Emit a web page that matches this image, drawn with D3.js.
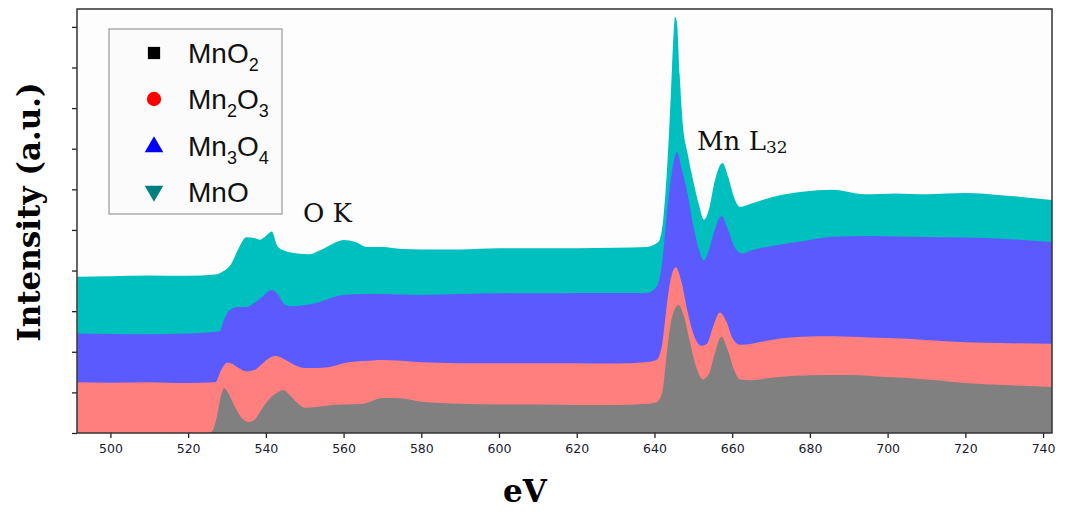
<!DOCTYPE html>
<html>
<head>
<meta charset="utf-8">
<script src="https://cdn.jsdelivr.net/npm/d3@7/dist/d3.min.js"></script>
<style>
  html, body { margin: 0; padding: 0; background: #ffffff; }
  svg { display: block; }
</style>
</head>
<body>
<svg id="chart" width="1067" height="513"></svg>
<script>
// ---------- data ----------
const xTicks = [500, 520, 540, 560, 580, 600, 620, 640, 660, 680, 700, 720, 740];
const yTicks = [0, 1, 2, 3, 4, 5, 6, 7, 8, 9, 10];
const xDomain = [491.4, 742.3];
const yDomain = [0, 10.44];

const seriesNames = ["MnO2", "Mn2O3", "Mn3O4", "MnO"];

const mno2Ev  = [491.5, 525.5, 526.5, 527.5, 528.5, 529.3, 530.5, 532, 534, 535.5, 537, 539, 541, 543, 544.5, 546, 548, 550, 553, 556, 560, 565, 570, 575, 580, 590, 600, 610, 620, 630, 638, 640.5, 642, 643, 644, 645, 646.2, 647.5, 649, 650.5, 652.5, 654, 655.5, 657.2, 659, 660.5, 662, 665, 670, 680, 690, 700, 710, 720, 730, 742.3];
const mno2Val = [0, 0, 0.1, 0.45, 0.95, 1.1, 0.95, 0.65, 0.35, 0.27, 0.32, 0.6, 0.85, 1.0, 1.06, 0.95, 0.75, 0.62, 0.64, 0.68, 0.7, 0.72, 0.86, 0.85, 0.77, 0.72, 0.7, 0.7, 0.69, 0.69, 0.72, 0.76, 1.0, 1.8, 2.6, 3.0, 3.15, 2.9, 2.3, 1.7, 1.32, 1.45, 1.95, 2.37, 2.0, 1.55, 1.32, 1.3, 1.36, 1.42, 1.43, 1.38, 1.32, 1.23, 1.18, 1.13];

const mn2o3Ev  = [491.5, 500, 510, 520, 527, 528.5, 530, 531, 533, 535, 537, 539, 541, 542.5, 544, 546, 548, 550, 553, 556, 560, 565, 570, 575, 580, 590, 600, 610, 620, 630, 638, 640.5, 642, 643, 644, 645.5, 647, 648.5, 650, 652, 653.5, 655, 656.8, 658.5, 660, 662, 665, 670, 678, 686, 695, 705, 715, 725, 742.3];
const mn2o3Val = [1.25, 1.24, 1.25, 1.23, 1.25, 1.55, 1.73, 1.72, 1.6, 1.52, 1.55, 1.7, 1.85, 1.9, 1.85, 1.75, 1.65, 1.6, 1.6, 1.62, 1.72, 1.77, 1.8, 1.78, 1.74, 1.72, 1.72, 1.72, 1.72, 1.71, 1.75, 1.8, 2.2, 3.0, 3.7, 4.08, 3.7, 3.0, 2.45, 2.15, 2.2, 2.6, 2.97, 2.75, 2.35, 2.17, 2.2, 2.29, 2.37, 2.38, 2.35, 2.32, 2.26, 2.22, 2.2];

const mn3o4Ev  = [491.5, 500, 510, 520, 528, 529.5, 531, 533, 535, 537, 539, 541.5, 543, 545, 547, 550, 553, 556, 560, 565, 570, 580, 590, 600, 610, 620, 630, 638, 640.5, 642, 643, 644, 645, 645.8, 647, 648.5, 650, 651.5, 652.7, 654, 655.5, 657.2, 659, 660.5, 662.5, 665, 670, 678, 686, 695, 705, 715, 725, 742.3];
const mn3o4Val = [2.45, 2.44, 2.43, 2.45, 2.5, 2.85, 3.05, 3.1, 3.1, 3.2, 3.35, 3.52, 3.42, 3.15, 3.12, 3.15, 3.2, 3.3, 3.4, 3.42, 3.42, 3.4, 3.42, 3.44, 3.44, 3.45, 3.45, 3.45, 3.6, 4.2, 5.2, 6.1, 6.7, 6.92, 6.5, 5.9, 5.1, 4.5, 4.25, 4.5, 5.0, 5.34, 5.0, 4.6, 4.42, 4.5, 4.6, 4.72, 4.83, 4.85, 4.83, 4.82, 4.8, 4.7];

const mnoEv  = [491.5, 500, 510, 520, 527, 529, 531, 533, 535, 537, 538.5, 540, 541.5, 543, 545, 548, 551, 554, 557, 560, 563, 566, 570, 575, 580, 590, 600, 610, 620, 630, 638, 641, 642.3, 643.3, 644.2, 644.8, 645.3, 645.8, 646.5, 647.3, 648.5, 650, 651.5, 652.7, 654, 655.5, 657.5, 659, 660.5, 662, 665, 670, 678, 686, 694, 702, 710, 720, 730, 742.3];
const mnoVal = [3.85, 3.86, 3.88, 3.87, 3.9, 3.98, 4.15, 4.55, 4.82, 4.8, 4.76, 4.85, 4.96, 4.6, 4.48, 4.42, 4.4, 4.5, 4.65, 4.75, 4.7, 4.58, 4.58, 4.53, 4.52, 4.52, 4.55, 4.55, 4.55, 4.56, 4.58, 4.7, 5.3, 6.6, 8.3, 9.6, 10.25, 10.1, 8.8, 7.6, 6.9, 6.2, 5.6, 5.25, 5.5, 6.2, 6.65, 6.3, 5.8, 5.57, 5.65, 5.8, 5.94, 5.99, 5.88, 5.9, 5.88, 5.91, 5.85, 5.74];

// ---------- layout / style ----------
const plot = { left: 77, right: 1052, top: 9, bottom: 433 };
const fills = { MnO: "#00bfbf", Mn3O4: "#5a5aff", Mn2O3: "#ff7f7f", MnO2: "#808080" };
const markerColors = { MnO2: "#000000", Mn2O3: "#ff0000", Mn3O4: "#0000ff", MnO: "#007f7f" };

const svg = d3.select("#chart");
const x = d3.scaleLinear().domain(xDomain).range([plot.left, plot.right]);
const y = d3.scaleLinear().domain(yDomain).range([plot.bottom, plot.top]);

const defs = svg.append("defs");
defs.append("clipPath").attr("id", "plotClip")
  .append("rect").attr("x", plot.left).attr("y", plot.top)
  .attr("width", plot.right - plot.left).attr("height", plot.bottom - plot.top);
defs.append("clipPath").attr("id", "zeroClip")
  .append("rect").attr("x", 60).attr("y", 425).attr("width", 6).attr("height", 20);

// plot background
svg.append("rect").attr("x", plot.left).attr("y", plot.top)
  .attr("width", plot.right - plot.left).attr("height", plot.bottom - plot.top)
  .attr("fill", "#fdfdfd");

const series = [
  { name: "MnO",   ev: mnoEv,   val: mnoVal },
  { name: "Mn3O4", ev: mn3o4Ev, val: mn3o4Val },
  { name: "Mn2O3", ev: mn2o3Ev, val: mn2o3Val },
  { name: "MnO2",  ev: mno2Ev,  val: mno2Val }
];

const area = d3.area()
  .x(d => x(d[0]))
  .y0(y(0))
  .y1(d => y(d[1]))
  .curve(d3.curveMonotoneX);

const g = svg.append("g").attr("clip-path", "url(#plotClip)");
series.forEach(s => {
  const pts = s.ev.map((e, i) => [e, s.val[i]]);
  g.append("path").datum(pts).attr("d", area).attr("fill", fills[s.name]);
});

// axes
const xAxis = d3.axisBottom(x).tickValues(xTicks).tickSize(5).tickSizeOuter(0).tickPadding(6);
const xg = svg.append("g").attr("transform", `translate(0,${plot.bottom})`).call(xAxis);
xg.select(".domain").remove();
xg.selectAll("line").attr("stroke", "#222").attr("stroke-width", 1.3);
xg.selectAll("text").attr("font-family", "'DejaVu Sans', sans-serif").attr("font-size", 12.5)
  .attr("fill", "#1a1a2e");

const yAxis = d3.axisLeft(y).tickValues(yTicks).tickSize(5).tickSizeOuter(0).tickFormat(d => d === 0 ? "0" : "");
const yg = svg.append("g").attr("transform", `translate(${plot.left},0)`).call(yAxis);
yg.select(".domain").remove();
yg.selectAll("line").attr("stroke", "#222").attr("stroke-width", 1.3);
yg.selectAll("text").attr("font-family", "'DejaVu Sans', sans-serif").attr("font-size", 11)
  .attr("fill", "#2a4a9a").attr("dy", "0.6em")
  .attr("clip-path", "url(#zeroClip)").attr("transform", `translate(${-plot.left},0)`)
  .attr("x", plot.left - 7);

// frame
svg.append("rect").attr("x", plot.left).attr("y", plot.top)
  .attr("width", plot.right - plot.left).attr("height", plot.bottom - plot.top)
  .attr("fill", "none").attr("stroke", "#333").attr("stroke-width", 1.5);

// legend
const leg = svg.append("g");
leg.append("rect").attr("x", 109).attr("y", 29).attr("width", 173).attr("height", 185)
  .attr("fill", "#fbfbfb").attr("stroke", "#9a9a9a").attr("stroke-width", 1.2);
const legendRows = [
  { name: "MnO2", shape: d3.symbolSquare, parts: [["MnO", false], ["2", true]] },
  { name: "Mn2O3", shape: d3.symbolCircle, parts: [["Mn", false], ["2", true], ["O", false], ["3", true]] },
  { name: "Mn3O4", shape: d3.symbolTriangle, parts: [["Mn", false], ["3", true], ["O", false], ["4", true]] },
  { name: "MnO", shape: d3.symbolTriangle, down: true, parts: [["MnO", false]] }
];
const rowY = [53, 99, 146, 192];
legendRows.forEach((r, i) => {
  const sz = r.shape === d3.symbolSquare ? 150 : (r.shape === d3.symbolCircle ? 160 : 150);
  leg.append("path").attr("d", d3.symbol().type(r.shape).size(sz)())
    .attr("transform", `translate(154,${rowY[i] + (r.down ? -1 : (r.shape === d3.symbolTriangle ? 1 : 0))})${r.down ? " rotate(180)" : ""}`)
    .attr("fill", markerColors[r.name]);
  const t = leg.append("text").attr("x", 188).attr("y", rowY[i] + 10)
    .attr("font-family", "'Liberation Sans', Arial, sans-serif").attr("font-size", 28).attr("fill", "#111");
  let prevSub = false;
  r.parts.forEach(p => {
    const ts = t.append("tspan").text(p[0]);
    if (p[1]) { ts.attr("font-size", 18).attr("dy", 8); }
    else if (prevSub) { ts.attr("dy", -8); }
    prevSub = p[1];
  });
});

// annotations
svg.append("text").attr("x", 303).attr("y", 222)
  .attr("font-family", "'DejaVu Serif', serif").attr("font-size", 26).attr("fill", "#111")
  .text("O K");
const ml = svg.append("text").attr("x", 697).attr("y", 150)
  .attr("font-family", "'DejaVu Serif', serif").attr("font-size", 26).attr("fill", "#111");
ml.append("tspan").text("Mn L");
ml.append("tspan").text("32").attr("font-size", 17).attr("dy", 3);

// axis titles
svg.append("text").attr("x", 525).attr("y", 502).attr("text-anchor", "middle")
  .attr("font-family", "'DejaVu Serif', serif").attr("font-weight", "bold").attr("font-size", 31)
  .attr("fill", "#000").text("eV");
svg.append("text").attr("transform", "translate(40,212) rotate(-90)").attr("text-anchor", "middle")
  .attr("font-family", "'DejaVu Serif', serif").attr("font-weight", "bold").attr("font-size", 31)
  .attr("fill", "#000").text("Intensity (a.u.)");
</script>
</body>
</html>
